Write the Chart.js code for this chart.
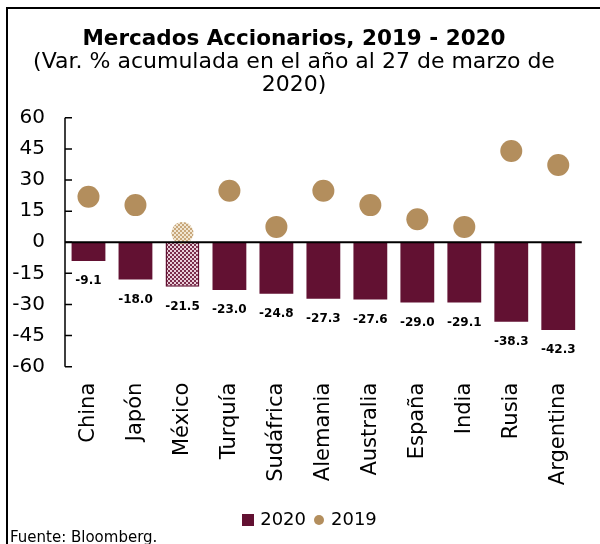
<!DOCTYPE html>
<html><head><meta charset="utf-8">
<script src="https://cdn.jsdelivr.net/npm/chart.js@4.4.1/dist/chart.umd.min.js"></script>
<style>
html,body{margin:0;padding:0;background:#fff;}
#wrap{position:relative;width:600px;height:544px;overflow:hidden;background:#fff;}
#frame{position:absolute;left:6px;top:7px;width:700px;height:700px;border:2px solid #000;box-sizing:border-box;}
canvas{position:absolute;left:0;top:0;}
#src{position:absolute;left:10px;top:528px;font:15px "DejaVu Sans";color:#000;white-space:nowrap;}
</style></head><body>
<div id="wrap"><div id="frame"></div><canvas id="c" width="600" height="544"></canvas><div id="src">Fuente: Bloomberg.</div></div>
<script>
const categories = ['China','Japón','México','Turquía','Sudáfrica','Alemania','Australia','España','India','Rusia','Argentina'];
const values2020 = [-9.1,-18.0,-21.5,-23.0,-24.8,-27.3,-27.6,-29.0,-29.1,-38.3,-42.3];
const values2019 = [21.9,17.9,4.5,24.8,7.4,24.8,17.9,11.1,7.4,44.0,37.2];
const yTicks = [60,45,30,15,0,-15,-30,-45,-60];
const highlightIndex = 2;

const MAROON = '#621132', GOLD = '#B38E5D';
const FONT = '"DejaVu Sans"';
Chart.defaults.font.family = FONT;
Chart.defaults.color = '#000';

const canvas = document.getElementById('c');
const mainCtx = canvas.getContext('2d');
function checker(c1, c2, s) {
  const p = document.createElement('canvas'); p.width = p.height = s * 2;
  const g = p.getContext('2d');
  g.fillStyle = c1; g.fillRect(0, 0, s * 2, s * 2);
  g.fillStyle = c2; g.fillRect(0, 0, s, s); g.fillRect(s, s, s, s);
  return mainCtx.createPattern(p, 'repeat');
}
const barPattern = checker('#7a2d4b', '#e9d0da', 2);
const dotPattern = checker('#c8a77b', '#f1e6d2', 2);

function legendImg(kind, color, size) {
  const p = document.createElement('canvas'); p.width = p.height = size;
  const g = p.getContext('2d'); g.fillStyle = color;
  if (kind === 'rect') g.fillRect(0, 0, size, size);
  else { g.beginPath(); g.arc(size / 2, size / 2, size / 2, 0, Math.PI * 2); g.fill(); }
  return p;
}
const sqImg = legendImg('rect', MAROON, 12);
const circImg = legendImg('circle', GOLD, 10);

const barFill = values2020.map((v, i) => i === highlightIndex ? barPattern : MAROON);
const dotFill = values2019.map((v, i) => i === highlightIndex ? dotPattern : GOLD);

const axisDraw = {
  id: 'axisDraw',
  afterDatasetsDraw(chart) {
    const {ctx, chartArea: a, scales: {y}} = chart;
    ctx.save();
    ctx.strokeStyle = '#000';
    ctx.lineWidth = 1.5;
    ctx.beginPath();
    ctx.moveTo(a.left, y.getPixelForValue(yTicks[0]));
    ctx.lineTo(a.left, y.getPixelForValue(yTicks[yTicks.length - 1]));
    y.ticks.forEach(t => {
      const py = y.getPixelForValue(t.value);
      ctx.moveTo(a.left, py); ctx.lineTo(a.left + 7, py);
    });
    ctx.stroke();
    ctx.lineWidth = 2;
    ctx.beginPath();
    const z = y.getPixelForValue(0);
    ctx.moveTo(a.left, z); ctx.lineTo(a.right, z);
    ctx.stroke();
    ctx.restore();
  }
};
const barLabels = {
  id: 'barLabels',
  afterDatasetsDraw(chart) {
    const meta = chart.getDatasetMeta(0);
    const ctx = chart.ctx;
    ctx.save();
    ctx.font = 'bold 12px ' + FONT;
    ctx.fillStyle = '#000';
    ctx.textAlign = 'center';
    ctx.textBaseline = 'middle';
    meta.data.forEach((b, i) => ctx.fillText(values2020[i].toFixed(1), b.x, b.y + 20));
    ctx.restore();
  }
};
const legendShift = {
  id: 'legendShift',
  afterLayout(chart) { if (chart.legend) { chart.legend.left += 17; chart.legend.right += 17; } }
};

new Chart(canvas, {
  data: {
    labels: categories,
    datasets: [
      {type: 'bar', label: '2020', data: values2020, backgroundColor: barFill,
       borderColor: MAROON, borderWidth: values2020.map((v, i) => i === highlightIndex ? 1.5 : 0),
       barPercentage: 0.72, categoryPercentage: 1, order: 2},
      {type: 'line', label: '2019', data: values2019, showLine: false,
       pointRadius: 11, pointHoverRadius: 11, pointBorderWidth: 0,
       pointBackgroundColor: dotFill, borderColor: GOLD, backgroundColor: GOLD, order: 1}
    ]
  },
  options: {
    responsive: false, animation: false, devicePixelRatio: 1,
    layout: {padding: {left: 0, right: 12, top: 0, bottom: 5}},
    scales: {
      x: {
        grid: {display: false, drawTicks: false}, border: {display: false},
        ticks: {minRotation: 90, maxRotation: 90, padding: 16, font: {size: 21}, color: '#000', autoSkip: false},
        afterFit(s) { s.height = 134.3; }
      },
      y: {
        min: -60, max: 60,
        grid: {display: false, drawTicks: false}, border: {display: false},
        ticks: {padding: 20, font: {size: 20}, color: '#000'},
        afterBuildTicks(s) { s.ticks = yTicks.map(v => ({value: v})); },
        afterFit(s) { s.width = 65; }
      }
    },
    plugins: {
      title: {display: true, text: 'Mercados Accionarios, 2019 - 2020',
        font: {size: 21.5, weight: 'bold', lineHeight: 1}, padding: {top: 29, bottom: 0}, color: '#000'},
      subtitle: {display: true, text: ['(Var. % acumulada en el año al 27 de marzo de', '2020)'],
        font: {size: 22, weight: 'normal', lineHeight: 23 / 22}, padding: {top: 0, bottom: 21.3}, color: '#000'},
      legend: {position: 'bottom',
        labels: {usePointStyle: true, boxWidth: 6, boxHeight: 12, padding: 10, font: {size: 18}, color: '#000',
          sort: (a, b) => a.datasetIndex - b.datasetIndex,
          generateLabels(chart) {
            const items = Chart.defaults.plugins.legend.labels.generateLabels(chart);
            items.forEach(it => { it.pointStyle = it.datasetIndex === 0 ? sqImg : circImg; });
            return items;
          }}},
      tooltip: {enabled: false}
    }
  },
  plugins: [axisDraw, barLabels, legendShift]
});
</script>
</body></html>
